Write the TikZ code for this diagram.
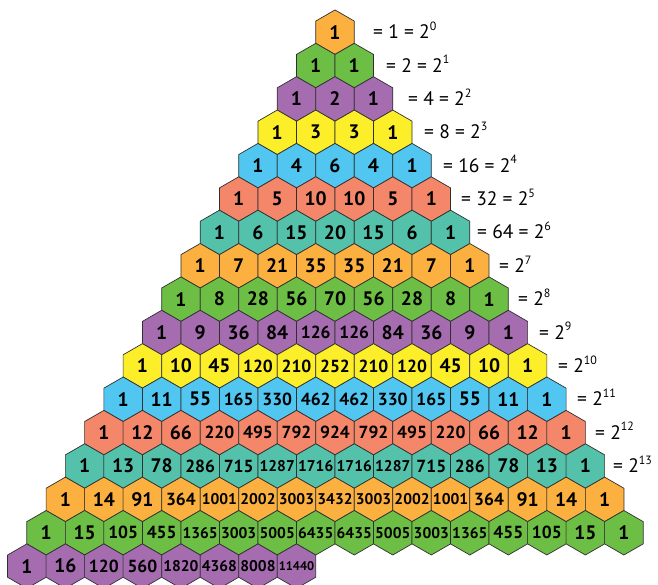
\documentclass[tikz,border=0pt]{standalone}
\usepackage{fontspec}
\setmainfont{PT Sans}
\definecolor{c0}{HTML}{FBB040}
\definecolor{c1}{HTML}{6DBE45}
\definecolor{c2}{HTML}{A56CB0}
\definecolor{c3}{HTML}{FDEE2A}
\definecolor{c4}{HTML}{50C6F1}
\definecolor{c5}{HTML}{F4866A}
\definecolor{c6}{HTML}{54C1AB}
\definecolor{hexedge}{HTML}{303030}
\newcommand\numsize[1]{\ifnum#1<100 \fontsize{19.5}{19.5}\else\ifnum#1<1000 \fontsize{17.5}{17.5}\else\ifnum#1<10000 \fontsize{15.5}{15.5}\else\fontsize{12.5}{12.5}\fi\fi\fi\selectfont}
\newcommand\supx[1]{\raisebox{0.42em}{\fontsize{12}{12}\selectfont #1}}
\begin{document}
\begin{tikzpicture}[x=1pt,y=-1pt,
  hexcell/.style={draw=hexedge,line width=0.7pt},
  num/.style={font=\bfseries, inner sep=0pt},
  lab/.style={anchor=base west, inner sep=0pt, font=\fontsize{19.5}{19.5}\selectfont}]
\useasboundingbox (0,0) rectangle (658,585);
\def\R{22.24}
\foreach \row [count=\n from 0] in {
 {1},
 {1,1},
 {1,2,1},
 {1,3,3,1},
 {1,4,6,4,1},
 {1,5,10,10,5,1},
 {1,6,15,20,15,6,1},
 {1,7,21,35,35,21,7,1},
 {1,8,28,56,70,56,28,8,1},
 {1,9,36,84,126,126,84,36,9,1},
 {1,10,45,120,210,252,210,120,45,10,1},
 {1,11,55,165,330,462,462,330,165,55,11,1},
 {1,12,66,220,495,792,924,792,495,220,66,12,1},
 {1,13,78,286,715,1287,1716,1716,1287,715,286,78,13,1},
 {1,14,91,364,1001,2002,3003,3432,3003,2002,1001,364,91,14,1},
 {1,15,105,455,1365,3003,5005,6435,6435,5005,3003,1365,455,105,15,1},
 {1,16,120,560,1820,4368,8008,11440}}{
  \pgfmathtruncatemacro\ci{mod(\n,7)}
  \foreach \v [count=\k from 0] in \row {
    \pgfmathsetmacro\cx{335+(\k-\n/2)*38.52}
    \pgfmathsetmacro\cy{32.2+\n*33.37}
    \draw[hexcell, fill=c\ci] (\cx,\cy) +(90:\R) -- +(150:\R) -- +(210:\R) -- +(270:\R) -- +(330:\R) -- +(30:\R) -- cycle;
    \node[num] (h-\n-\k) at (\cx,\cy) {\numsize{\v}\v};
  }
}
\foreach \lx/\txt [count=\n from 0] in {
  373/{= 1 = 2\supx{0}},
  386/{= 2 = 2\supx{1}},
  408/{= 4 = 2\supx{2}},
  424/{= 8 = 2\supx{3}},
  443/{= 16 = 2\supx{4}},
  461/{= 32 = 2\supx{5}},
  477/{= 64 = 2\supx{6}},
  499/{= 2\supx{7}},
  518/{= 2\supx{8}},
  539/{= 2\supx{9}},
  558/{= 2\supx{10}},
  577/{= 2\supx{11}},
  595/{= 2\supx{12}},
  613/{= 2\supx{13}}}{
  \pgfmathsetmacro\ly{32.2+\n*33.37+6.5}
  \node[lab] (lab-\n) at (\lx,\ly) {\txt};
}
\end{tikzpicture}
\end{document}
